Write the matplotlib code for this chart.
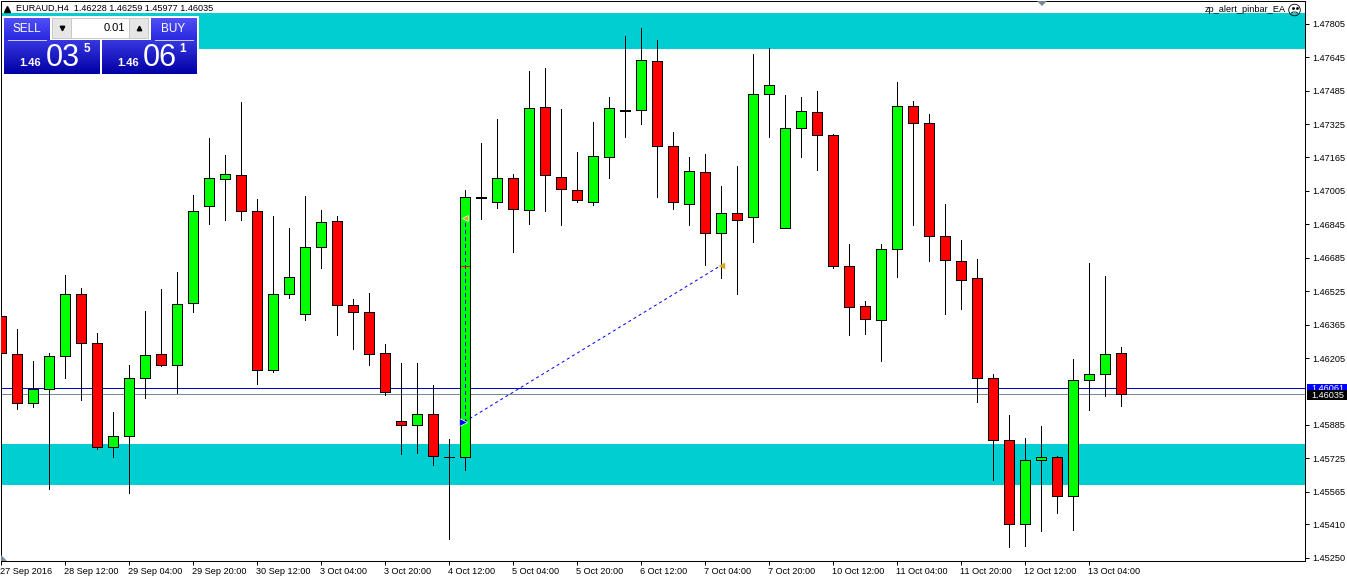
import numpy as np
import matplotlib
matplotlib.use("Agg")
import matplotlib.pyplot as plt
from matplotlib.patches import Rectangle, Circle

plt.rcParams["font.family"] = ["Liberation Sans", "DejaVu Sans"]

W, H = 1347, 577

# =========================
# EURAUD H4 candles
# =========================
opens = [
    1.46408, 1.46226, 1.45992, 1.46059, 1.46216, 1.46513, 1.46279, 1.45781, 1.45834, 1.46111,
    1.46226, 1.46173, 1.46470, 1.46934, 1.47063, 1.47082, 1.46910, 1.46149, 1.46513, 1.46417,
    1.46738, 1.46862, 1.46460, 1.46427, 1.46231, 1.45905, 1.45886, 1.45939, 1.45733, 1.45733,
    1.46977, 1.46953, 1.47068, 1.46915, 1.47408, 1.47073, 1.47011, 1.46953, 1.47169, 1.47393,
    1.47393, 1.47628, 1.47221, 1.46944, 1.47097, 1.46805, 1.46901, 1.46881, 1.47470, 1.46829,
    1.47307, 1.47384, 1.47274, 1.46647, 1.46456, 1.46389, 1.46728, 1.47413, 1.47331, 1.46791,
    1.46671, 1.46590, 1.46111, 1.45814, 1.45413, 1.45719, 1.45733, 1.45546, 1.46102, 1.46130,
    1.46228,
]
highs = [
    1.46456, 1.46346, 1.46192, 1.46231, 1.46604, 1.46542, 1.46326, 1.45949, 1.46173, 1.46432,
    1.46537, 1.46618, 1.46987, 1.47260, 1.47178, 1.47432, 1.46968, 1.46886, 1.46829, 1.46982,
    1.46915, 1.46886, 1.46489, 1.46518, 1.46274, 1.46183, 1.46183, 1.46078, 1.45819, 1.47011,
    1.47236, 1.47350, 1.47087, 1.47580, 1.47594, 1.47398, 1.47193, 1.47336, 1.47456, 1.47748,
    1.47786, 1.47728, 1.47288, 1.47169, 1.47183, 1.47030, 1.47126, 1.47661, 1.47690, 1.47465,
    1.47456, 1.47484, 1.47279, 1.46752, 1.46480, 1.46752, 1.47527, 1.47437, 1.47374, 1.46944,
    1.46771, 1.46681, 1.46130, 1.45934, 1.45824, 1.45881, 1.45738, 1.46202, 1.46661, 1.46599,
    1.46259,
]
lows = [
    1.46173, 1.45963, 1.45973, 1.45580, 1.46111, 1.46006, 1.45771, 1.45733, 1.45561, 1.46016,
    1.46168, 1.46039, 1.46427, 1.46848, 1.46867, 1.46867, 1.46082, 1.46140, 1.46494, 1.46389,
    1.46637, 1.46317, 1.46250, 1.46173, 1.46030, 1.45747, 1.45752, 1.45695, 1.45341, 1.45671,
    1.46872, 1.46925, 1.46714, 1.46848, 1.46910, 1.46843, 1.46953, 1.46939, 1.47068, 1.47264,
    1.47327, 1.46977, 1.46920, 1.46843, 1.46652, 1.46590, 1.46513, 1.46762, 1.47264, 1.46829,
    1.47169, 1.47106, 1.46637, 1.46317, 1.46322, 1.46192, 1.46594, 1.46843, 1.46671, 1.46417,
    1.46441, 1.45997, 1.45623, 1.45303, 1.45307, 1.45379, 1.45465, 1.45384, 1.45958, 1.46025,
    1.45977,
]
closes = [
    1.46231, 1.45992, 1.46059, 1.46216, 1.46513, 1.46279, 1.45781, 1.45834, 1.46111, 1.46221,
    1.46173, 1.46465, 1.46910, 1.47068, 1.47087, 1.46910, 1.46149, 1.46513, 1.46594, 1.46738,
    1.46858, 1.46460, 1.46427, 1.46226, 1.46044, 1.45886, 1.45939, 1.45738, 1.45733, 1.46977,
    1.46972, 1.47068, 1.46920, 1.47403, 1.47082, 1.47015, 1.46963, 1.47173, 1.47403, 1.47388,
    1.47633, 1.47221, 1.46953, 1.47102, 1.46805, 1.46901, 1.46867, 1.47470, 1.47513, 1.47307,
    1.47389, 1.47274, 1.46647, 1.46451, 1.46393, 1.46728, 1.47413, 1.47331, 1.46791, 1.46676,
    1.46580, 1.46111, 1.45814, 1.45413, 1.45719, 1.45733, 1.45546, 1.46102, 1.46130, 1.46226,
    1.46035,
]

x_tick_bars = [0, 4, 8, 12, 16, 20, 24, 28, 32, 36, 40, 44, 48, 52, 56, 60, 64, 68]
x_tick_labels = [
    "27 Sep 2016", "28 Sep 12:00", "29 Sep 04:00", "29 Sep 20:00", "30 Sep 12:00", "3 Oct 04:00",
    "3 Oct 20:00", "4 Oct 12:00", "5 Oct 04:00", "5 Oct 20:00", "6 Oct 12:00", "7 Oct 04:00",
    "7 Oct 20:00", "10 Oct 12:00", "11 Oct 04:00", "11 Oct 20:00", "12 Oct 12:00", "13 Oct 04:00",
]
y_ticks = [
    1.47805, 1.47645, 1.47485, 1.47325, 1.47165, 1.47005, 1.46845, 1.46685, 1.46525,
    1.46365, 1.46205, 1.45885, 1.45725, 1.45565, 1.45410, 1.45250,
]

# zones, prices, trade
zone_upper = (1.47685, 1.47858)
zone_lower = (1.45599, 1.45795)
ask_price = 1.46061
bid_price = 1.46035
trade_bars = [29, 45]
trade_prices = [1.45900, 1.46647]
stop_prices = [1.45900, 1.46858]
marker_price = 1.46877
tp_price = 1.46647

TURQ = "#00CED1"
SLATE = "#778899"
FS = 6.6

# =========================
# Main chart
# =========================
fig = plt.figure(figsize=(W / 100, H / 100), dpi=100, facecolor="white")

ax_l, ax_r, ax_t, ax_b = 0.5, 1305.0, 0.5, 561.0
ax = fig.add_axes([ax_l / W, 1 - ax_b / H, (ax_r - ax_l) / W, (ax_b - ax_t) / H])
ax.set_xlim((ax_l - 0.5) / 16, (ax_r - 0.5) / 16)
ax.set_ylim(1.47805 - (ax_b - 23.7) * 4.785e-5, 1.47805 + (23.7 - ax_t) * 4.785e-5)

ax.axhspan(*zone_upper, color=TURQ, lw=0, antialiased=False, zorder=1)
ax.axhspan(*zone_lower, color=TURQ, lw=0, antialiased=False, zorder=1)
ax.axhline(ask_price, color="#0000CD", lw=0.72, antialiased=False, zorder=2)
ax.axhline(bid_price, color=SLATE, lw=0.72, antialiased=False, zorder=2)

bars = np.arange(len(opens))
o = np.array(opens)
c = np.array(closes)
ax.vlines(bars, lows, highs, color="black", lw=0.72, antialiased=False, zorder=3)
ax.bar(
    bars,
    c - o,
    bottom=o,
    width=0.625,
    color=np.where(c >= o, "#00FF00", "#FF0000").tolist(),
    edgecolor="black",
    linewidth=0.72,
    antialiased=False,
    zorder=4,
)
# doji at 4 Oct 12:00 has no body
ax.hlines(closes[28], 27.69, 28.31, color="black", lw=0.72, antialiased=False, zorder=5)

# trade arrows
ax.plot(trade_bars, trade_prices, color="#0000FF", lw=0.72, ls=(0, (3, 3)), zorder=6)
ax.plot([trade_bars[0]] * 2, stop_prices, color="#0000FF", lw=0.72, ls=(0, (3, 3)), antialiased=False, zorder=6)
ax.hlines(tp_price, 28.75, 29.25, color="#FF0000", lw=0.72, antialiased=False, zorder=6)
ax.plot(trade_bars[0] + 0.05, marker_price, marker="<", ms=4.5, mfc="#DAA520", mec="white", mew=0.5, zorder=7)
ax.plot(trade_bars[1] + 0.1, trade_prices[1], marker="<", ms=4.5, mfc="#DAA520", mec="#DAA520", mew=0.3, zorder=7)
ax.plot(trade_bars[0] - 0.12, trade_prices[0], marker=">", ms=5.5, mfc="#0000FF", mec="white", mew=0.5, zorder=7)

ax.set_xticks(x_tick_bars)
ax.set_xticklabels(x_tick_labels, ha="left", fontsize=FS)
ax.set_yticks(y_ticks)
ax.set_yticklabels([f"{v:.5f}" for v in y_ticks], fontsize=FS)
ax.yaxis.tick_right()
ax.tick_params(axis="x", length=2.6, width=0.72, pad=2)
ax.tick_params(axis="y", length=2.6, width=0.72, pad=2.5)
for sp in ax.spines.values():
    sp.set_linewidth(0.72)
    sp.set_color("black")

# =========================
# Terminal furniture, in pixel coordinates
# =========================
pan = fig.add_axes([0, 0, 1, 1], zorder=5)
pan.patch.set_alpha(0)
pan.axis("off")


def gradient(x0, x1, y0, y1, top, bottom):
    ramp = np.linspace(top, bottom, 32).reshape(32, 1, 3) / 255
    pan.imshow(ramp, extent=(x0, x1, y1, y0), aspect="auto", interpolation="bilinear", zorder=2)


def box(x0, y0, x1, y1, **kw):
    pan.add_patch(Rectangle((x0, y0), x1 - x0, y1 - y0, antialiased=False, **kw))


# header
pan.plot(7, 8.5, marker="^", ms=4.0, color="black")
pan.text(16, 8.5, "EURAUD,H4  1.46228 1.46259 1.45977 1.46035", fontsize=FS, va="center", ha="left")

# one click trading panel
box(2, 16, 199, 75, fc="white", ec="none", zorder=1)
gradient(4, 50, 18, 40, (80, 80, 245), (40, 40, 225))
gradient(151, 197, 18, 40, (80, 80, 245), (40, 40, 225))
gradient(4, 100, 40, 74, (55, 55, 225), (0, 0, 165))
gradient(102, 197, 40, 74, (55, 55, 225), (0, 0, 165))
box(52, 18, 149, 39, fc="#C8C8C8", ec="none", zorder=2)
box(53, 19, 71, 38, fc="#E6E6E6", ec="none", zorder=3)
box(72, 19, 129, 38, fc="white", ec="none", zorder=3)
box(130, 19, 148, 38, fc="#E6E6E6", ec="none", zorder=3)
pan.plot(61.5, 28, marker="v", ms=3.2, color="black", zorder=4)
pan.plot(138.5, 28, marker="^", ms=3.2, color="black", zorder=4)
pan.text(125, 28, "0.01", fontsize=8, ha="right", va="center", zorder=4)
pan.plot([8, 46], [39.5, 39.5], color="#C8C8FF", lw=0.72, zorder=4)
pan.plot([155, 193], [39.5, 39.5], color="#C8C8FF", lw=0.72, zorder=4)
pan.text(26.5, 29, "SELL", color="white", fontsize=8.5, ha="center", va="center", zorder=4)
pan.text(173, 29, "BUY", color="white", fontsize=8.5, ha="center", va="center", zorder=4)
for x_small, x_big, x_sup, big, sup in [(30.5, 63, 86.5, "03", "5"), (128.5, 160, 183, "06", "1")]:
    pan.text(x_small, 63.5, "1.46", color="white", fontsize=8, weight="bold", ha="center", va="center", zorder=4)
    pan.text(x_big, 57.5, big, color="white", fontsize=22, ha="center", va="center", zorder=4)
    pan.text(x_sup, 49, sup, color="white", fontsize=8.5, weight="bold", ha="center", va="center", zorder=4)

# expert name and face
pan.text(1286, 10, "zp_alert_pinbar_EA", fontsize=FS, ha="right", va="center", zorder=4)
pan.add_patch(Circle((1294.5, 10), 5.8, fc="none", ec="black", lw=0.6, zorder=4))
pan.plot([1292.5, 1296.5], [8, 8], ls="none", marker="s", ms=0.9, color="black", zorder=4)
pan.plot([1291.5, 1293, 1296, 1297.5], [13, 12, 12, 13], color="black", lw=0.6, zorder=4)

# small slate triangles
pan.fill([1037, 1047, 1042], [1, 1, 6], color=SLATE, lw=0, zorder=4)
pan.fill([1, 1, 7], [555, 561, 561], color=SLATE, lw=0, zorder=4)

# price boxes
box(1307, 384, W, 392, fc="#0000FF", ec="none", zorder=3)
pan.text(1311, 388.5, f"{ask_price:.5f}", color="white", fontsize=FS, va="center", ha="left", zorder=4)
box(1307, 390, W, 400, fc="black", ec="none", zorder=5)
pan.text(1311, 395, f"{bid_price:.5f}", color="white", fontsize=FS, va="center", ha="left", zorder=6)

pan.set_xlim(0, W)
pan.set_ylim(H, 0)

fig.savefig("out.png", dpi=100)
plt.close(fig)
